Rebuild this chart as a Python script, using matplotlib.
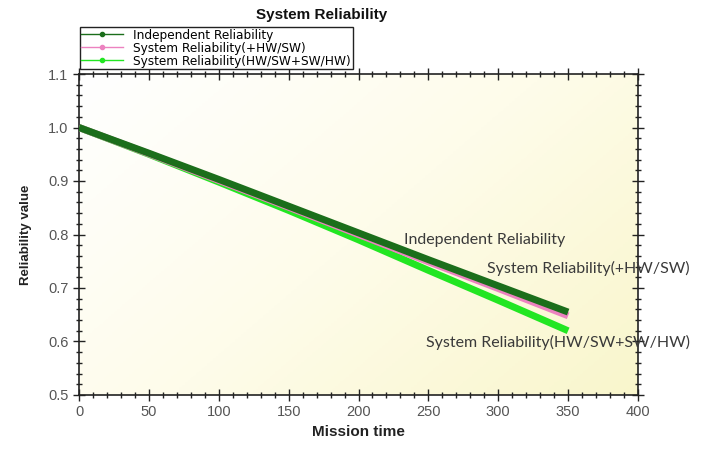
import numpy as np
import matplotlib
matplotlib.use("Agg")
import matplotlib.pyplot as plt
from matplotlib.ticker import MultipleLocator
from matplotlib.colors import LinearSegmentedColormap

# Data
mission_time = [0, 50, 100, 150, 200, 250, 300, 350]
independent = [1.000, 0.952, 0.903, 0.853, 0.803, 0.753, 0.704, 0.655]
sys_hw_sw = [1.000, 0.951, 0.901, 0.851, 0.800, 0.749, 0.699, 0.648]
sys_hw_sw_sw_hw = [1.000, 0.950, 0.898, 0.845, 0.790, 0.733, 0.677, 0.620]

series_names = ["Independent Reliability",
                "System Reliability(+HW/SW)",
                "System Reliability(HW/SW+SW/HW)"]
colors = ["#1b6e1b", "#ec82c0", "#22e622"]

fig = plt.figure(figsize=(7.11, 4.5), dpi=100)
ax = fig.add_axes([79 / 711, 1 - 395 / 450, (638 - 79) / 711, (395 - 74) / 450])

# Gradient background: white top-left to pale yellow bottom-right
gx, gy = np.meshgrid(np.linspace(0, 1, 200), np.linspace(0, 1, 200))
grad = (0.6 * gx + 0.4 * gy)
cmap = LinearSegmentedColormap.from_list("bg", ["#ffffff", "#fefcea", "#f9f6cc"])
ax.imshow(grad, extent=[0, 400, 0.5, 1.1], origin="upper", cmap=cmap,
          aspect="auto", zorder=0)

# draw in reverse so the independent curve sits on top
all_vals = [independent, sys_hw_sw, sys_hw_sw_sw_hw]
for vals, c in list(zip(all_vals, colors))[::-1]:
    ax.plot(mission_time, vals, color=c, lw=5, solid_capstyle="butt", zorder=3)

# Legend proxies (thin line with a dot marker)
handles = [plt.Line2D([], [], color=c, lw=1, marker="o", markersize=3) for c in colors]
fig.legend(handles, series_names, loc="lower left",
           bbox_to_anchor=(80 / 711, 1 - 69 / 450), frameon=True, fancybox=False,
           edgecolor="#222222", framealpha=1, borderpad=0.12, labelspacing=0.0,
           handlelength=3.4, handletextpad=0.9, borderaxespad=0,
           prop={"family": "DejaVu Sans", "size": 8.7})

ax.set_xlim(0, 400)
ax.set_ylim(0.5, 1.1)
ax.xaxis.set_major_locator(MultipleLocator(50))
ax.xaxis.set_minor_locator(MultipleLocator(10))
ax.yaxis.set_major_locator(MultipleLocator(0.1))
ax.yaxis.set_minor_locator(MultipleLocator(0.02))
ax.yaxis.set_major_formatter(plt.FuncFormatter(lambda v, p: f"{v:.1f}"))

ax.tick_params(which="both", top=True, right=True, color="#222222",
               labelcolor="#555555", labelsize=10.5)
ax.tick_params(axis="x", which="both", direction="inout")
ax.tick_params(axis="y", which="both", direction="inout")
ax.tick_params(which="major", length=8, width=1)
ax.tick_params(which="minor", length=4, width=1)
for lab in ax.get_xticklabels() + ax.get_yticklabels():
    lab.set_family("Liberation Sans")
for s in ax.spines.values():
    s.set_color("#222222")
    s.set_linewidth(1.2)

ax.set_xlabel("Mission time", fontsize=11, fontweight="bold",
              family="Liberation Sans", color="#222222", labelpad=4)
ax.set_ylabel("Reliability value", fontsize=9.5, fontweight="bold",
              family="Liberation Sans", color="#222222", labelpad=12)

fig.text(322 / 711, 1 - 15 / 450, "System Reliability", ha="center", va="center",
         fontsize=11, fontweight="bold", family="Liberation Sans", color="#111111")

# Inline series labels
label_kw = dict(fontsize=11.5, family="Lato", color="#3a3a3a", va="center")
fig.text(404 / 711, 1 - 240 / 450, series_names[0], ha="left", **label_kw)
fig.text(690 / 711, 1 - 268 / 450, series_names[1], ha="right", **label_kw)
fig.text(690 / 711, 1 - 342 / 450, series_names[2], ha="right", **label_kw)

fig.savefig("out.png", dpi=100)
